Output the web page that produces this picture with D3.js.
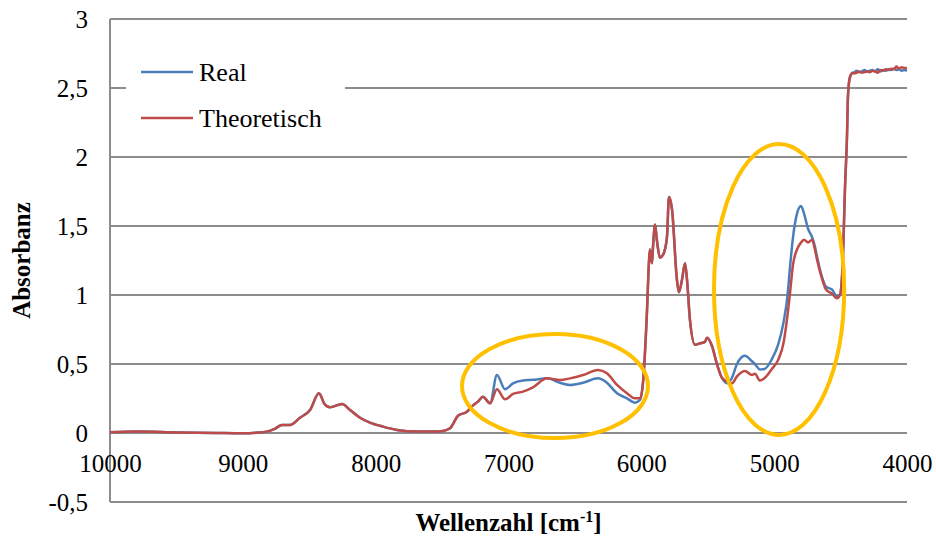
<!DOCTYPE html>
<html>
<head>
<meta charset="utf-8">
<script src="https://cdn.jsdelivr.net/npm/d3@7"></script>
<style>
  body { margin: 0; background: #fff; }
</style>
</head>
<body>
<svg id="chart"></svg>
<script>
// wavenumbers (cm-1)
var wavenumbers = [10000, 9800, 9500, 9200, 9000, 8900, 8820, 8760, 8705, 8645, 8570, 8494, 8427, 8385, 8344, 8253, 8193, 8118, 8043, 7945, 7840, 7689, 7560, 7493, 7440, 7380, 7313, 7267, 7230, 7192, 7139, 7087, 7026, 6966, 6891, 6816, 6710, 6612, 6537, 6439, 6326, 6259, 6183, 6108, 6048, 6010, 5988, 5958, 5942, 5935, 5920, 5912, 5897, 5882, 5860, 5837, 5807, 5792, 5769, 5732, 5717, 5694, 5671, 5656, 5634, 5596, 5558, 5521, 5506, 5468, 5431, 5393, 5348, 5318, 5280, 5220, 5167, 5145, 5107, 5070, 5020, 4970, 4930, 4900, 4880, 4858, 4828, 4798, 4775, 4745, 4715, 4693, 4678, 4640, 4610, 4565, 4527, 4505, 4482, 4467, 4452, 4444, 4429, 4407, 4400, 4380, 4360, 4340, 4320, 4300, 4280, 4260, 4240, 4220, 4200, 4180, 4160, 4140, 4120, 4100, 4080, 4060, 4040, 4020, 4000];

var realValues = [0.005, 0.01, 0.004, 0.0, -0.002, 0.002, 0.01, 0.03, 0.058, 0.058, 0.11, 0.167, 0.288, 0.21, 0.186, 0.21, 0.167, 0.11, 0.075, 0.046, 0.022, 0.01, 0.01, 0.015, 0.034, 0.125, 0.154, 0.2, 0.227, 0.263, 0.215, 0.42, 0.317, 0.36, 0.38, 0.385, 0.396, 0.364, 0.348, 0.364, 0.396, 0.364, 0.288, 0.251, 0.22, 0.24, 0.36, 0.87, 1.25, 1.33, 1.23, 1.35, 1.51, 1.39, 1.27, 1.29, 1.42, 1.71, 1.62, 1.11, 1.02, 1.11, 1.23, 1.11, 0.82, 0.64, 0.65, 0.66, 0.69, 0.63, 0.5, 0.4, 0.36, 0.4, 0.5, 0.56, 0.52, 0.5, 0.46, 0.465, 0.53, 0.64, 0.8, 0.99, 1.21, 1.42, 1.59, 1.645, 1.59, 1.48, 1.42, 1.35, 1.28, 1.13, 1.06, 1.04, 0.99, 1.0, 1.28, 1.77, 2.14, 2.45, 2.58, 2.61, 2.61, 2.625, 2.615, 2.62, 2.63, 2.62, 2.625, 2.63, 2.62, 2.635, 2.62, 2.63, 2.625, 2.635, 2.63, 2.64, 2.63, 2.635, 2.625, 2.63, 2.625];

var theoValues = [0.005, 0.01, 0.004, 0.0, -0.002, 0.002, 0.01, 0.03, 0.058, 0.058, 0.11, 0.167, 0.288, 0.21, 0.186, 0.21, 0.167, 0.11, 0.075, 0.046, 0.022, 0.01, 0.01, 0.015, 0.034, 0.125, 0.154, 0.2, 0.227, 0.263, 0.215, 0.317, 0.244, 0.283, 0.3, 0.331, 0.396, 0.384, 0.396, 0.42, 0.457, 0.433, 0.348, 0.288, 0.251, 0.251, 0.36, 0.87, 1.25, 1.33, 1.23, 1.35, 1.51, 1.39, 1.27, 1.29, 1.42, 1.71, 1.62, 1.11, 1.02, 1.11, 1.23, 1.11, 0.82, 0.64, 0.65, 0.66, 0.69, 0.63, 0.5, 0.4, 0.37, 0.36, 0.41, 0.45, 0.42, 0.43, 0.38, 0.4, 0.46, 0.53, 0.65, 0.85, 1.02, 1.22, 1.33, 1.38, 1.4, 1.38, 1.4, 1.33, 1.26, 1.12, 1.04, 1.01, 0.976, 1.0, 1.28, 1.77, 2.14, 2.45, 2.58, 2.61, 2.605, 2.61, 2.62, 2.61, 2.615, 2.62, 2.615, 2.625, 2.62, 2.61, 2.63, 2.625, 2.635, 2.63, 2.64, 2.635, 2.655, 2.64, 2.65, 2.645, 2.645];

var seriesNames = ['Real', 'Theoretisch'];
var xTicks = [10000, 9000, 8000, 7000, 6000, 5000, 4000];
var yTicks = [-0.5, 0, 0.5, 1, 1.5, 2, 2.5, 3];

// highlighted regions: [centre wavenumber, half width, centre absorbance, half height]
var highlights = [[6650, 700, 0.34, 0.377], [4963, 490, 1.04, 1.054]];

var width = 936, height = 539;
var margin = { top: 19, right: 29, bottom: 37, left: 110 };
var serif = '"Liberation Serif", "Times New Roman", Times, "DejaVu Serif", serif';

var svg = d3.select('#chart')
            .attr('width', width)
            .attr('height', height)
            .attr('font-family', serif);

var x = d3.scaleLinear()
          .domain([10000, 4000])
          .range([margin.left, width - margin.right]);
var y = d3.scaleLinear()
          .domain([-0.5, 3])
          .range([height - margin.bottom, margin.top]);

var fmt = function(v) { return String(v).replace('.', ','); };

// horizontal grid lines
svg.append('g')
    .selectAll('line')
    .data(yTicks)
    .enter()
    .append('line')
    .attr('x1', x(10000))
    .attr('x2', x(4000))
    .attr('y1', d => y(d))
    .attr('y2', d => y(d))
    .style('stroke', '#8c8c8c')
    .style('stroke-width', 2);

// vertical axis line
svg.append('line')
    .attr('x1', x(10000))
    .attr('x2', x(10000))
    .attr('y1', y(3))
    .attr('y2', y(-0.5))
    .style('stroke', '#8c8c8c')
    .style('stroke-width', 2);

// y tick labels
var yAxis = d3.axisLeft(y).tickValues(yTicks).tickFormat(fmt).tickSize(0).tickPadding(22);
var gy = svg.append('g')
    .attr('transform', 'translate(' + x(10000) + ',0)')
    .call(yAxis)
    .attr('font-family', serif)
    .attr('font-size', 25);
gy.select('.domain').remove();
gy.selectAll('text')
    .attr('fill', '#000')
    .attr('dy', '0.35em');

// x tick labels, hung below the zero line
var xAxis = d3.axisBottom(x).tickValues(xTicks).tickFormat(d3.format('d')).tickSize(0).tickPadding(21);
var gx = svg.append('g')
    .attr('transform', 'translate(0,' + y(0) + ')')
    .call(xAxis)
    .attr('font-family', serif)
    .attr('font-size', 25);
gx.select('.domain').remove();
gx.selectAll('text')
    .attr('fill', '#000');

// series
var rows = wavenumbers.map((w, i) => ({ w: w, real: realValues[i], theo: theoValues[i] }));

var line = key => d3.line()
    .x(d => x(d.w))
    .y(d => y(d[key]))
    .curve(d3.curveMonotoneX);

svg.append('path')
    .datum(rows)
    .attr('d', line('real'))
    .attr('fill', 'none')
    .style('stroke', '#4a7ebb')
    .style('stroke-width', 2.5)
    .style('stroke-linejoin', 'round');

svg.append('path')
    .datum(rows)
    .attr('d', line('theo'))
    .attr('fill', 'none')
    .style('stroke', '#be4b48')
    .style('stroke-width', 2.5)
    .style('stroke-linejoin', 'round');

// orange ellipses
svg.selectAll('ellipse')
    .data(highlights)
    .enter()
    .append('ellipse')
    .attr('cx', d => x(d[0]))
    .attr('cy', d => y(d[2]))
    .attr('rx', d => Math.abs(x(d[0] + d[1]) - x(d[0])))
    .attr('ry', d => Math.abs(y(d[2] + d[3]) - y(d[2])))
    .attr('fill', 'none')
    .style('stroke', '#ffc000')
    .style('stroke-width', 4);

// legend
var legend = svg.append('g');
legend.append('rect')
    .attr('x', 126)
    .attr('y', 42)
    .attr('width', 219)
    .attr('height', 98)
    .attr('fill', '#fff');

var legendColors = ['#4a7ebb', '#be4b48'];
seriesNames.forEach(function(name, i) {
    var ly = 72 + i * 46;
    legend.append('line')
        .attr('x1', 141).attr('x2', 193)
        .attr('y1', ly).attr('y2', ly)
        .style('stroke', legendColors[i])
        .style('stroke-width', 2.5);
    legend.append('text')
        .attr('x', 199)
        .attr('y', ly)
        .attr('dy', '0.35em')
        .attr('font-size', 26)
        .text(name);
});

// axis titles
svg.append('text')
    .attr('transform', 'translate(30,' + y(1.25) + ') rotate(-90)')
    .attr('text-anchor', 'middle')
    .attr('font-size', 25)
    .attr('font-weight', 'bold')
    .text('Absorbanz');

var xt = svg.append('text')
    .attr('x', (x(10000) + x(4000)) / 2)
    .attr('y', 531)
    .attr('text-anchor', 'middle')
    .attr('font-size', 25)
    .attr('font-weight', 'bold');
xt.append('tspan').text('Wellenzahl [cm');
xt.append('tspan').attr('dy', -9).attr('font-size', 16).text('-1');
xt.append('tspan').attr('dy', 9).text(']');
</script>
</body>
</html>
